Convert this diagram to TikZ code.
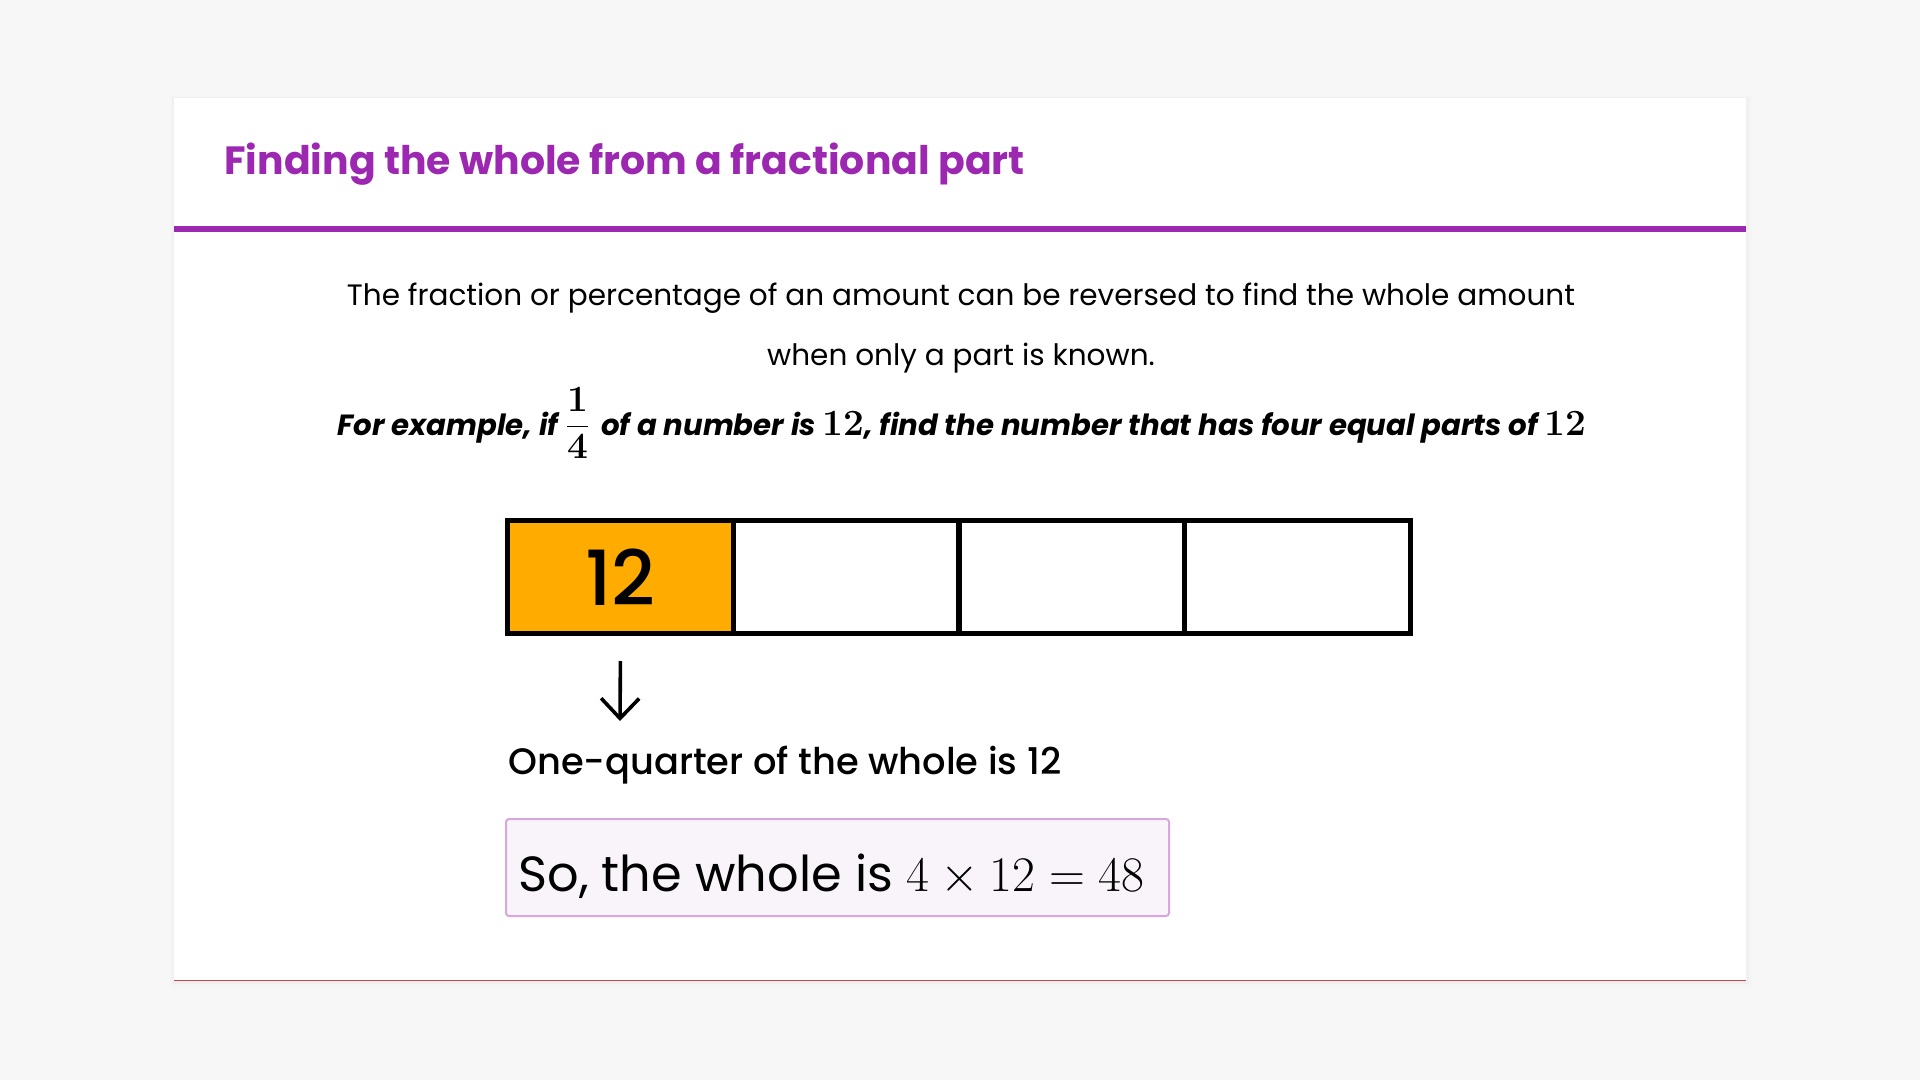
\documentclass[tikz,border=0pt]{standalone}
\usepackage[no-math]{fontspec}
\setmainfont{Poppins}
\newfontfamily\pmed{Poppins Medium}
\newfontfamily\lmr{Latin Modern Roman}
\usetikzlibrary{arrows.meta}
\definecolor{bg}{HTML}{F7F7F7}
\definecolor{titlepurple}{HTML}{9C27B0}
\definecolor{barorange}{HTML}{FFAB00}
\definecolor{boxfill}{HTML}{F9F4FA}
\definecolor{boxdraw}{HTML}{D9A6E0}
\definecolor{redline}{HTML}{D0453F}
\newcommand{\exnum}[1]{\hbox{\fontsize{18.5}{20}\selectfont\lmr\bfseries\upshape #1}}
\newcommand{\exfrac}{{\fontsize{18.5}{20}\selectfont$\displaystyle\frac{\exnum{1}}{\exnum{4}}$}}
\tikzset{
  cell/.style={draw=black, line width=2.5pt, minimum width=112.875pt, minimum height=56.5pt, inner sep=0pt, fill=white},
  bodytext/.style={font=\fontsize{14.75}{18}\selectfont, anchor=base, inner sep=0pt},
  resbox/.style={draw=boxdraw, fill=boxfill, line width=1pt, rounded corners=1.5pt, minimum width=331.5pt, minimum height=48.5pt, inner sep=0pt}
}
\begin{document}
\begin{tikzpicture}[x=0.5pt, y=-0.5pt]
\path[use as bounding box, fill=bg] (0,0) rectangle (1920,1080);
% card shadow and card
\fill[black!4] (170,96) rectangle (1752,988);
\fill[black!6] (172,97) rectangle (1749,984);
\fill[white] (174,98) rectangle (1746,981);
\draw[redline, line width=0.5pt] (174,980.5) -- (1746,980.5);
\fill[titlepurple] (174,226) rectangle (1746,232);
% title
\node[anchor=base west, inner sep=0pt, text=titlepurple, font=\fontsize{19.7}{24}\selectfont\bfseries] (title) at (224,175) {Finding the whole from a fractional part};
% paragraph
\node[bodytext] (p1) at (961,306) {The fraction or percentage of an amount can be reversed to find the whole amount};
\node[bodytext] (p2) at (961,365) {when only a part is known.};
\node[bodytext, font=\fontsize{14.6}{18}\selectfont\bfseries\itshape] (ex) at (962,435) {For example, if \exfrac\hspace{2pt} of a number is \exnum{12}, find the number that has four equal parts of \exnum{12}};
% bar model
\node[cell, fill=barorange] (c1) at (620.4,577) {\fontsize{38}{40}\selectfont\pmed 12};
\node[cell] (c2) at (846.1,577) {};
\node[cell] (c3) at (1071.9,577) {};
\node[cell] (c4) at (1297.6,577) {};
% arrow
\coordinate (arrowend) at (620,721);
\draw[line width=1.8pt, -{Straight Barb[length=10pt, width=19pt, line width=1.8pt]}] ([yshift=-12.5pt]c1.south) -- (arrowend);
\node[anchor=base west, inner sep=0pt, font=\fontsize{18.4}{22}\selectfont\pmed] (quarter) at (508,774) {One-quarter of the whole is 12};
% result box
\node[resbox] (res) at (837.5,867.5) {};
\node[anchor=base west, inner sep=0pt, font=\fontsize{24.7}{28}\selectfont] (restext) at (518,891) {So, the whole is {\fontsize{26}{28}\selectfont$4\times12=48$}};
\end{tikzpicture}
\end{document}
